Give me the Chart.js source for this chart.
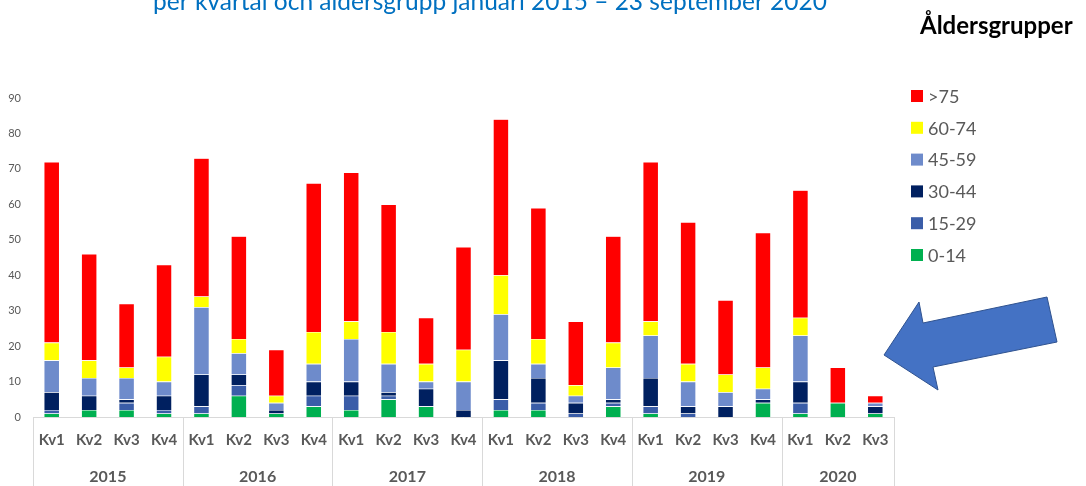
<!DOCTYPE html>
<html>
<head>
<meta charset="utf-8">
<script src="https://cdn.jsdelivr.net/npm/chart.js@4/dist/chart.umd.min.js"></script>
<style>
  html, body { margin: 0; padding: 0; background: #fff; }
  #wrap { position: relative; width: 1086px; height: 486px; overflow: hidden; }
</style>
</head>
<body>
<div id="wrap"><canvas id="chart" width="1086" height="486"></canvas></div>
<script>
// kvartal per år
var kvartal = ['Kv1','Kv2','Kv3','Kv4', 'Kv1','Kv2','Kv3','Kv4', 'Kv1','Kv2','Kv3','Kv4',
               'Kv1','Kv2','Kv3','Kv4', 'Kv1','Kv2','Kv3','Kv4', 'Kv1','Kv2','Kv3'];
var ar = ['2015','2016','2017','2018','2019','2020'];
var kvartalPerAr = [4,4,4,4,4,3];

// antal per åldersgrupp
var grupp0_14  = [1,2,2,1, 1,6,1,3, 2,5,3,0, 2,2,0,3, 1,0,0,4, 1,4,1];
var grupp15_29 = [1,0,2,1, 2,3,0,3, 4,1,0,0, 3,2,1,1, 2,1,0,0, 3,0,0];
var grupp30_44 = [5,4,1,4, 9,3,1,4, 4,1,5,2, 11,7,3,1, 8,2,3,1, 6,0,2];
var grupp45_59 = [9,5,6,4, 19,6,2,5, 12,8,2,8, 13,4,2,9, 12,7,4,3, 13,0,1];
var grupp60_74 = [5,5,3,7, 3,4,2,9, 5,9,5,9, 11,7,3,7, 4,5,5,6, 5,0,0];
var grupp75    = [51,30,18,26, 39,29,13,42, 42,36,13,29, 44,37,18,30, 45,40,21,38, 36,10,2];

var yTicks = [0,10,20,30,40,50,60,70,80,90];

var grupper = [
  { label: '0-14',  data: grupp0_14,  color: '#00B050' },
  { label: '15-29', data: grupp15_29, color: '#3A5DA8' },
  { label: '30-44', data: grupp30_44, color: '#002060' },
  { label: '45-59', data: grupp45_59, color: '#6E8BCB' },
  { label: '60-74', data: grupp60_74, color: '#FFFF00' },
  { label: '>75',   data: grupp75,    color: '#FF0000' }
];

var gra = '#595959';
var linje = '#D9D9D9';

var extras = {
  id: 'extras',
  afterDraw(chart) {
    var ctx = chart.ctx;
    var x = chart.scales.x;
    var area = chart.chartArea;
    var step = x.getPixelForValue(1) - x.getPixelForValue(0);
    ctx.save();

    // titel (avklippt upptill)
    ctx.fillStyle = '#0070C0';
    ctx.font = '24.5px Lato';
    ctx.textAlign = 'center';
    ctx.textBaseline = 'alphabetic';
    ctx.fillText('per kvartal och åldersgrupp januari 2015 – 23 september 2020', 490, 10);

    // axellinjer och år
    ctx.strokeStyle = linje;
    ctx.lineWidth = 1;
    var start = x.getPixelForValue(0) - step / 2;
    ctx.beginPath();
    ctx.moveTo(start, area.bottom + 0.5);
    ctx.lineTo(x.getPixelForValue(kvartal.length - 1) + step / 2, area.bottom + 0.5);
    ctx.stroke();
    var idx = 0;
    ctx.font = 'bold 16px Lato';
    ctx.fillStyle = gra;
    ctx.textBaseline = 'middle';
    for (var i = 0; i <= ar.length; i++) {
      var px = Math.round(x.getPixelForValue(idx) - step / 2) + 0.5;
      ctx.beginPath();
      ctx.moveTo(px, area.bottom);
      ctx.lineTo(px, chart.height);
      ctx.stroke();
      if (i < ar.length) {
        var mid = (x.getPixelForValue(idx) + x.getPixelForValue(idx + kvartalPerAr[i] - 1)) / 2;
        ctx.fillText(ar[i], mid, 477);
        idx += kvartalPerAr[i];
      }
    }

    // förklaring
    ctx.textAlign = 'left';
    ctx.fillStyle = '#000';
    ctx.font = 'bold 24px Lato';
    ctx.textBaseline = 'alphabetic';
    ctx.fillText('Åldersgrupper', 920, 34);
    ctx.textBaseline = 'middle';
    ctx.font = '18px Lato';
    for (var j = 0; j < grupper.length; j++) {
      var g = grupper[grupper.length - 1 - j];
      var cy = 96 + j * 31.8;
      ctx.fillStyle = g.color;
      ctx.fillRect(911, cy - 6, 12, 12);
      ctx.fillStyle = gra;
      ctx.fillText(g.label, 928, cy + 1);
    }

    // pil
    ctx.beginPath();
    ctx.moveTo(884, 355);
    ctx.lineTo(919, 302);
    ctx.lineTo(923, 323);
    ctx.lineTo(1047, 297);
    ctx.lineTo(1057, 342);
    ctx.lineTo(933, 367);
    ctx.lineTo(938, 390);
    ctx.closePath();
    ctx.fillStyle = '#4472C4';
    ctx.fill();
    ctx.strokeStyle = '#2F528F';
    ctx.lineWidth = 1;
    ctx.stroke();
    ctx.restore();
  }
};

new Chart(document.getElementById('chart'), {
  type: 'bar',
  data: {
    labels: kvartal,
    datasets: grupper.map(function (g) {
      return {
        label: g.label,
        data: g.data,
        backgroundColor: g.color,
        borderColor: 'rgba(255,255,255,0.45)',
        borderWidth: 0.6,
        barPercentage: 1,
        categoryPercentage: 0.42
      };
    })
  },
  options: {
    responsive: false,
    animation: false,
    maintainAspectRatio: false,
    layout: { padding: { top: 98, right: 192, left: 0, bottom: 0 } },
    plugins: { legend: { display: false }, tooltip: { enabled: false } },
    scales: {
      x: {
        stacked: true,
        grid: { display: false, drawTicks: false },
        border: { display: false },
        ticks: { color: gra, font: { family: 'Lato', size: 15, weight: 'bold' }, padding: 14, maxRotation: 0, autoSkip: false },
        afterFit: function (s) { s.height = 69; }
      },
      y: {
        stacked: true,
        min: 0,
        max: 90,
        grid: { display: false, drawTicks: false },
        border: { display: false },
        afterBuildTicks: function (s) { s.ticks = yTicks.map(function (v) { return { value: v }; }); },
        ticks: { color: gra, font: { family: 'Lato', size: 11 }, padding: 12 },
        afterFit: function (s) { s.width = 33; }
      }
    }
  },
  plugins: [extras]
});
</script>
</body>
</html>
